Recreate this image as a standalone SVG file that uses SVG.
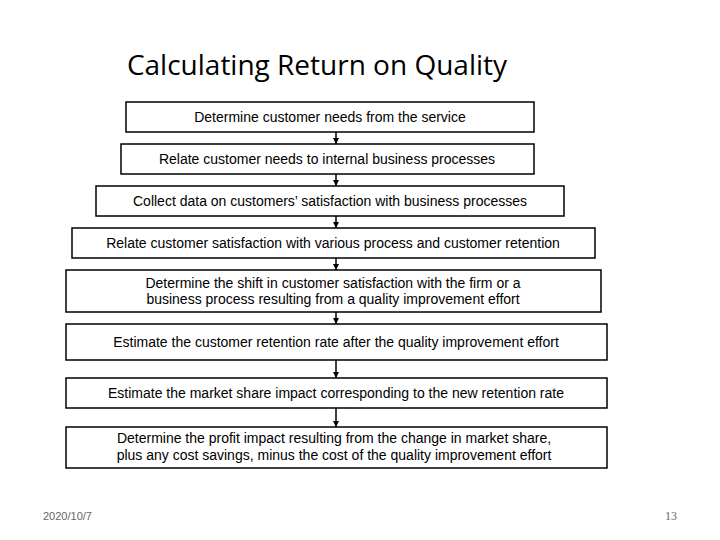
<svg xmlns="http://www.w3.org/2000/svg" width="720" height="540" viewBox="0 0 720 540">
<style>
.box{fill:#fff;stroke:#000;stroke-width:1.5}
.t{font-family:"Liberation Sans",Arial,sans-serif;font-size:14px;fill:#000;text-anchor:middle}
.c{stroke:#000;stroke-width:1.5;fill:none;marker-end:url(#ah)}
</style>
<defs>
<marker id="ah" viewBox="0 0 10 10" refX="10" refY="5" markerWidth="6" markerHeight="6" markerUnits="userSpaceOnUse" orient="auto">
<path d="M0,0 L10,5 L0,10 Z" fill="#000"/>
</marker>
</defs>
<rect width="720" height="540" fill="#fff"/>
<text x="317" y="75" font-family="'Open Sans',Calibri,sans-serif" font-size="28" text-anchor="middle" fill="#000">Calculating Return on Quality</text>
<g id="connectors">
<line class="c" x1="336" y1="132" x2="336" y2="144"/>
<line class="c" x1="336" y1="174" x2="336" y2="186"/>
<line class="c" x1="336" y1="216" x2="336" y2="228"/>
<line class="c" x1="336" y1="258" x2="336" y2="270"/>
<line class="c" x1="336" y1="312" x2="336" y2="324"/>
<line class="c" x1="336" y1="360" x2="336" y2="378"/>
<line class="c" x1="336" y1="408" x2="336" y2="427"/>
</g>
<g id="n1"><rect class="box" x="126" y="102" width="408" height="30"/><text class="t" x="330" y="122">Determine customer needs from the service</text></g>
<g id="n2"><rect class="box" x="121" y="144" width="413" height="30"/><text class="t" x="327" y="164">Relate customer needs to internal business processes</text></g>
<g id="n3"><rect class="box" x="96" y="186" width="468" height="30"/><text class="t" x="330" y="206">Collect data on customers’ satisfaction with business processes</text></g>
<g id="n4"><rect class="box" x="72" y="228" width="523" height="30"/><text class="t" x="333" y="248">Relate customer satisfaction with various process and customer retention</text></g>
<g id="n5"><rect class="box" x="66" y="270" width="535" height="42"/><text class="t" x="333" y="288">Determine the shift in customer satisfaction with the firm or a</text><text class="t" x="333" y="304">business process resulting from a quality improvement effort</text></g>
<g id="n6"><rect class="box" x="66" y="324" width="541" height="36"/><text class="t" x="336" y="347">Estimate the customer retention rate after the quality improvement effort</text></g>
<g id="n7"><rect class="box" x="66" y="378" width="541" height="30"/><text class="t" x="336" y="398">Estimate the market share impact corresponding to the new retention rate</text></g>
<g id="n8"><rect class="box" x="66" y="427" width="541" height="41"/><text class="t" x="334" y="443">Determine the profit impact resulting from the change in market share,</text><text class="t" x="334" y="460">plus any cost savings, minus the cost of the quality improvement effort</text></g>
<text x="43" y="520" font-family="'Liberation Sans',Arial,sans-serif" font-size="11" fill="#666">2020/10/7</text>
<text x="665" y="520" font-family="'Liberation Serif','Times New Roman',serif" font-size="12" fill="#666">13</text>
</svg>
